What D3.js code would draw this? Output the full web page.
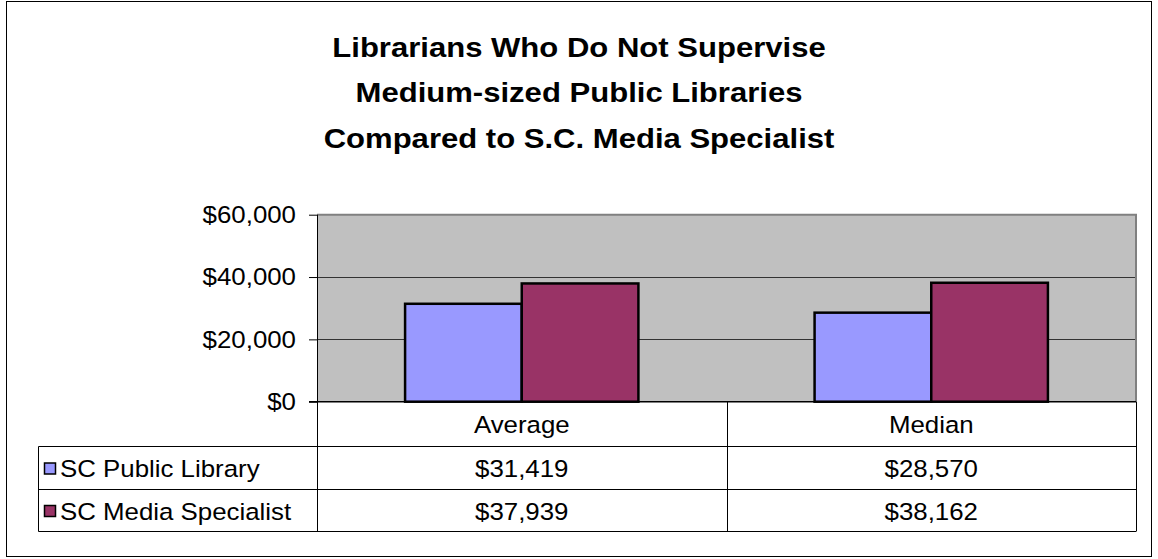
<!DOCTYPE html>
<html>
<head>
<meta charset="utf-8">
<script src="https://cdn.jsdelivr.net/npm/d3@7"></script>
<style>
  html, body { margin: 0; padding: 0; background: #fff; }
  svg { display: block; }
  text { font-family: Arial, "Liberation Sans", sans-serif; fill: #000; }
</style>
</head>
<body>
<svg id="chart" width="1158" height="559"></svg>
<script>
const titleLines = ["Librarians Who Do Not Supervise", "Medium-sized Public Libraries", "Compared to S.C. Media Specialist"];
const categories = ["Average", "Median"];
const seriesNames = ["SC Public Library", "SC Media Specialist"];
const publicLibrary = [31419, 28570];
const mediaSpecialist = [37939, 38162];
const seriesColors = ["#9999FF", "#993366"];
const yTicks = [0, 20000, 40000, 60000];

const seriesValues = [publicLibrary, mediaSpecialist];
const fmt = d3.format("$,.0f");

const BODY = 23.5, BODY_SX = 1.1;
const TITLE = 28.5, TITLE_SX = 1.09;

const svg = d3.select("#chart");

// helper: text horizontally stretched around its anchor point
function label(parent, x, y, str, opts) {
  const o = Object.assign({ size: BODY, sx: BODY_SX, anchor: "start", weight: "normal", middle: true }, opts || {});
  const g = parent.append("g").attr("transform", `translate(${x},${y}) scale(${o.sx},1)`);
  g.append("text").attr("x", 0).attr("y", 0)
    .attr("dy", o.middle ? "0.35em" : 0)
    .attr("text-anchor", o.anchor).attr("font-size", o.size).attr("font-weight", o.weight)
    .text(str);
  return g;
}

// outer frame
svg.append("rect").attr("x", 6.5).attr("y", 1.5).attr("width", 1145).attr("height", 555)
  .attr("fill", "#fff").attr("stroke", "#000").attr("stroke-width", 1);

// title
const tg = svg.append("g");
titleLines.forEach((t, i) => label(tg, 579, 47 + i * 45.5, t, { size: TITLE, sx: TITLE_SX, anchor: "middle", weight: "bold" }));

const plotL = 317, plotR = 1136, plotT = 214.7, plotB = 401.7;
const x = d3.scaleBand().domain(categories).range([plotL, plotR]).padding(0);
const xs = d3.scaleBand().domain(seriesNames).range([0, x.bandwidth()]).paddingInner(0).paddingOuter(0.755);
const y = d3.scaleLinear().domain([0, 60000]).range([plotB, plotT]);

// plot background
svg.append("rect").attr("x", plotL).attr("y", plotT).attr("width", plotR - plotL).attr("height", plotB - plotT)
  .attr("fill", "#C0C0C0");

// gridlines
svg.append("g").selectAll("line").data(yTicks.filter(t => t > 0 && t < 60000)).join("line")
  .attr("x1", plotL).attr("x2", plotR)
  .attr("y1", d => Math.round(y(d)) + 0.5).attr("y2", d => Math.round(y(d)) + 0.5)
  .attr("stroke", "#333").attr("stroke-width", 1);

// plot border top & right
svg.append("path")
  .attr("d", `M${plotL},${plotT} H${plotR} V${plotB}`)
  .attr("fill", "none").attr("stroke", "#808080").attr("stroke-width", 2);

// bars
const groups = svg.append("g").selectAll("g").data(categories).join("g")
  .attr("transform", d => `translate(${x(d)},0)`);
groups.selectAll("rect").data((c, ci) => seriesNames.map((s, si) => ({ s, si, v: seriesValues[si][ci] })))
  .join("rect")
  .attr("x", d => xs(d.s)).attr("width", xs.bandwidth())
  .attr("y", d => y(d.v)).attr("height", d => y(0) - y(d.v))
  .attr("fill", d => seriesColors[d.si]).attr("stroke", "#000").attr("stroke-width", 2.5);

// y axis (ticks through d3 axis, labels stretched)
const yAxis = d3.axisLeft(y).tickValues(yTicks).tickFormat("").tickSize(8);
const ag = svg.append("g").attr("transform", `translate(${plotL},0)`).call(yAxis);
ag.select(".domain").remove();
ag.selectAll(".tick line").attr("stroke", "#000");
const yl = svg.append("g");
yTicks.forEach(t => label(yl, 296, y(t), fmt(t), { anchor: "end" }));

svg.append("line").attr("x1", plotL + 0.5).attr("x2", plotL + 0.5).attr("y1", plotT).attr("y2", 531)
  .attr("stroke", "#000").attr("stroke-width", 1);
svg.append("line").attr("x1", plotL - 8).attr("x2", plotR).attr("y1", plotB).attr("y2", plotB)
  .attr("stroke", "#000").attr("stroke-width", 1.5);

// data table
const tableL = 38.5, rowTops = [446.5, 489.5], tableB = 531.5, headerT = plotB;
const tbl = svg.append("g");
[...rowTops, tableB].forEach(yy => {
  tbl.append("line").attr("x1", tableL).attr("x2", plotR).attr("y1", yy).attr("y2", yy)
    .attr("stroke", "#000").attr("stroke-width", 1);
});
tbl.append("line").attr("x1", tableL).attr("x2", tableL).attr("y1", rowTops[0]).attr("y2", tableB)
  .attr("stroke", "#000");
categories.forEach(c => {
  const xx = Math.round(x(c) + x.bandwidth()) + 0.5;
  tbl.append("line").attr("x1", xx).attr("x2", xx)
    .attr("y1", headerT).attr("y2", tableB).attr("stroke", "#000");
});
// header
categories.forEach(c => label(tbl, x(c) + x.bandwidth() / 2, (headerT + rowTops[0]) / 2 + 1, c, { anchor: "middle" }));
// rows
const rowBounds = [[rowTops[0], rowTops[1]], [rowTops[1], tableB]];
seriesNames.forEach((s, si) => {
  const cy = (rowBounds[si][0] + rowBounds[si][1]) / 2 + 1;
  tbl.append("rect").attr("x", 44.5).attr("y", cy - 6).attr("width", 11).attr("height", 11)
    .attr("fill", seriesColors[si]).attr("stroke", "#000").attr("stroke-width", 1.5);
  label(tbl, 60, cy, s);
  categories.forEach((c, ci) => label(tbl, x(c) + x.bandwidth() / 2, cy, fmt(seriesValues[si][ci]), { anchor: "middle" }));
});
</script>
</body>
</html>
